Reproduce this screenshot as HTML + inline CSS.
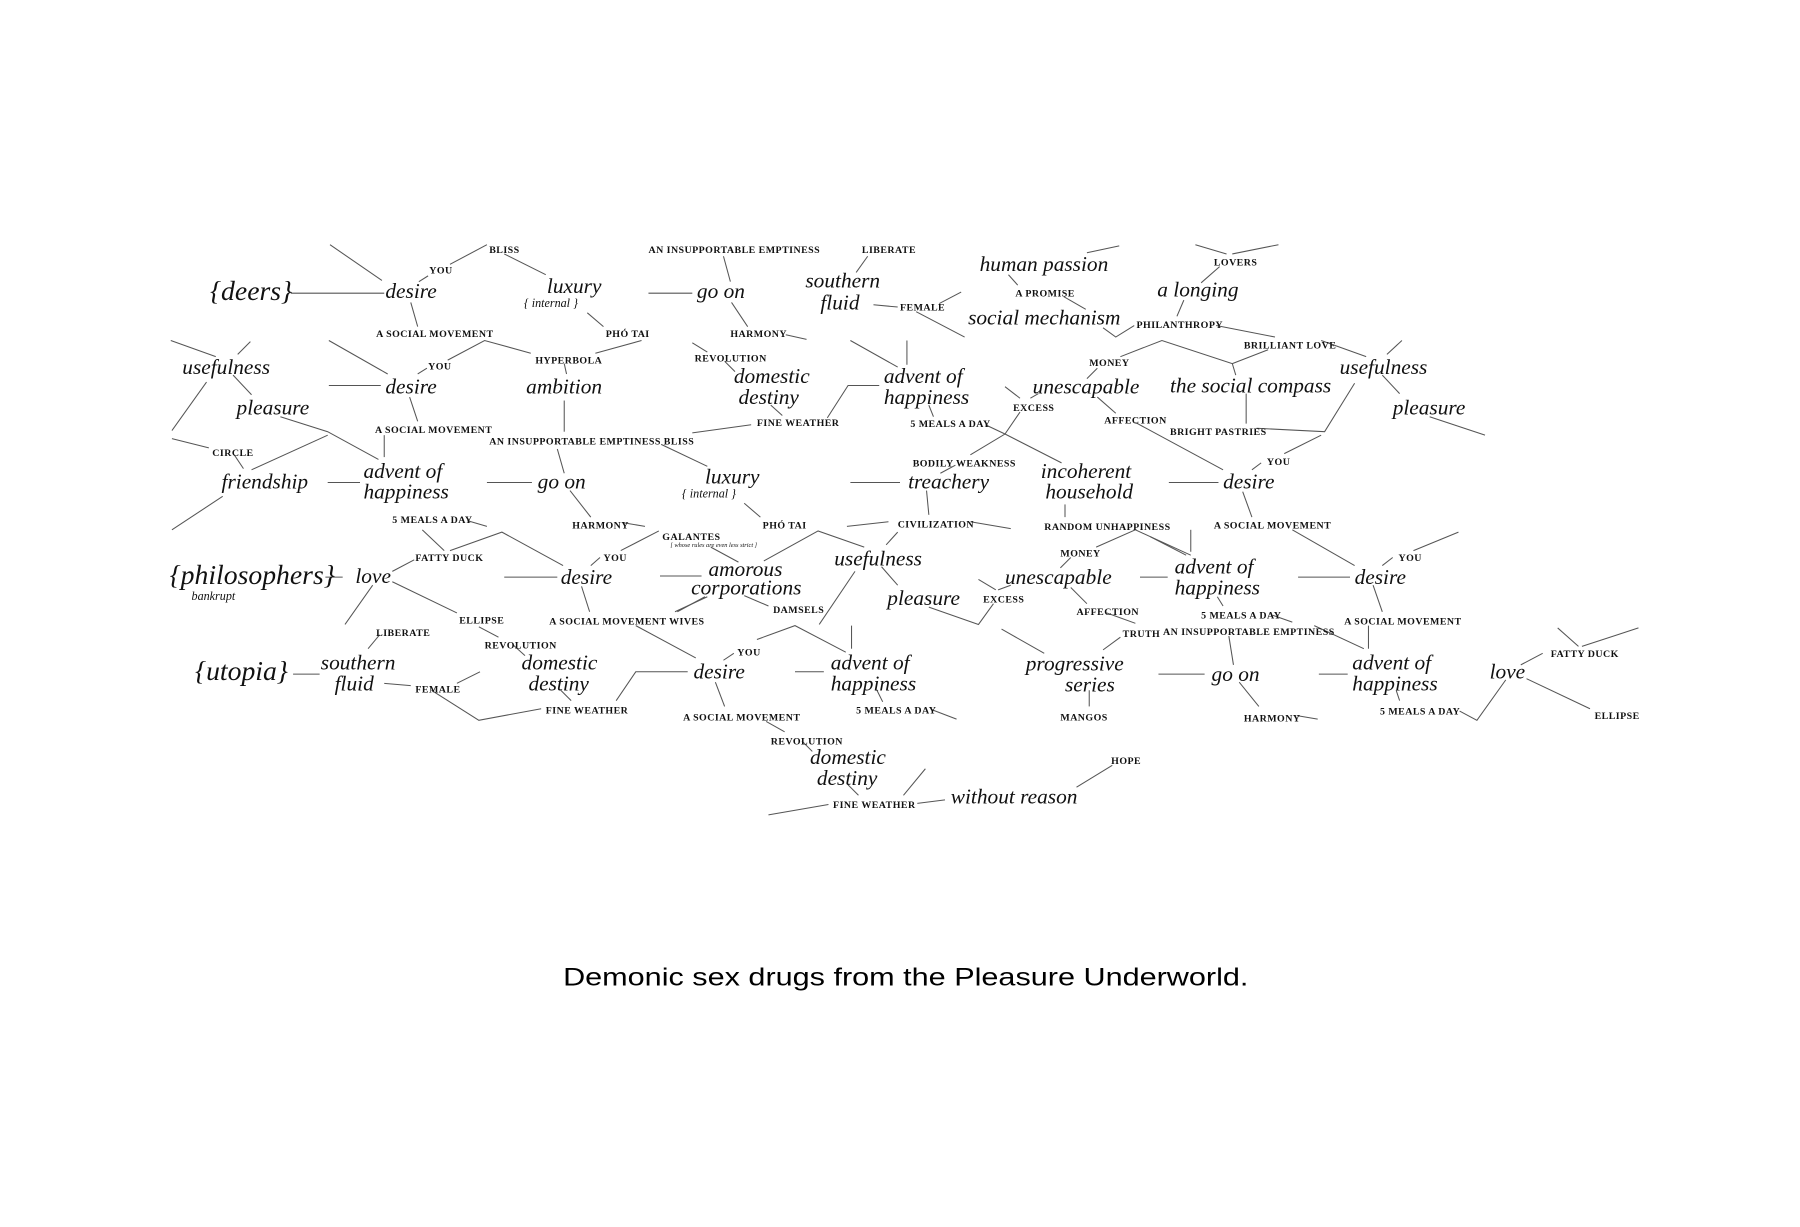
<!DOCTYPE html>
<html><head><meta charset="utf-8"><style>
html,body{margin:0;padding:0;background:#fff;}
svg{display:block;}
.n{font-family:"Liberation Serif",serif;font-style:italic;font-size:18.5px;fill:#111;}
.b{font-family:"Liberation Serif",serif;font-style:italic;font-size:24px;fill:#111;}
.i{font-family:"Liberation Serif",serif;font-style:italic;font-size:10.5px;fill:#111;}
.t{font-family:"Liberation Serif",serif;font-style:italic;font-size:5.5px;fill:#111;}
.s{font-family:"Liberation Serif",serif;font-size:8.6px;letter-spacing:0.4px;fill:#111;font-weight:bold;}
.c{font-family:"Liberation Sans",sans-serif;font-size:22px;fill:#000;}
line,polyline{stroke:#555;stroke-width:0.9;fill:none;}
</style></head><body>
<svg width="1800" height="1227" viewBox="0 0 1560 1063" preserveAspectRatio="none" xmlns="http://www.w3.org/2000/svg">
<!-- lines -->
<line x1="252" y1="254" x2="333" y2="254"/>
<line x1="286" y1="212" x2="331" y2="243"/>
<line x1="363" y1="244" x2="371" y2="239"/>
<line x1="390" y1="229" x2="422" y2="212"/>
<line x1="437" y1="220" x2="473" y2="238"/>
<line x1="356" y1="262" x2="362" y2="283"/>
<line x1="509" y1="271" x2="523" y2="283"/>
<line x1="562" y1="254" x2="600" y2="254"/>
<line x1="627" y1="222" x2="633" y2="244"/>
<line x1="634" y1="262" x2="648" y2="283"/>
<line x1="681" y1="290" x2="699" y2="294"/>
<line x1="752" y1="222" x2="742" y2="236"/>
<line x1="757" y1="264" x2="778" y2="266"/>
<line x1="814" y1="263" x2="833" y2="253"/>
<line x1="794" y1="270" x2="836" y2="292"/>
<line x1="942" y1="219" x2="970" y2="213"/>
<line x1="874" y1="238" x2="882" y2="247"/>
<line x1="922" y1="257" x2="941" y2="268"/>
<polyline points="956,284 967,292 983,282"/>
<line x1="1036" y1="212" x2="1063" y2="220"/>
<line x1="1068" y1="220" x2="1108" y2="212"/>
<line x1="1057" y1="231" x2="1041" y2="245"/>
<line x1="1026" y1="260" x2="1020" y2="274"/>
<line x1="1054" y1="282" x2="1105" y2="292"/>
<line x1="1145" y1="295" x2="1184" y2="309"/>
<line x1="1202" y1="307" x2="1215" y2="295"/>
<line x1="1198" y1="325" x2="1213" y2="341"/>
<line x1="1239" y1="361" x2="1287" y2="377"/>
<polyline points="1174,332 1148,374 1089,371"/>
<polyline points="971,309 1007,295 1068,315 1071,325"/>
<line x1="1068" y1="315" x2="1099" y2="303"/>
<line x1="1080" y1="341" x2="1080" y2="367"/>
<line x1="951" y1="319" x2="942" y2="328"/>
<line x1="893" y1="345" x2="900" y2="341"/>
<line x1="871" y1="335" x2="884" y2="345"/>
<polyline points="884,357 871,376 841,394"/>
<line x1="871" y1="376" x2="920" y2="401"/>
<line x1="854" y1="368" x2="871" y2="376"/>
<line x1="951" y1="344" x2="967" y2="358"/>
<line x1="984" y1="366" x2="1060" y2="407"/>
<line x1="786" y1="295" x2="786" y2="316"/>
<line x1="737" y1="295" x2="778" y2="318"/>
<line x1="805" y1="351" x2="809" y2="361"/>
<line x1="600" y1="297" x2="613" y2="305"/>
<line x1="628" y1="313" x2="637" y2="322"/>
<line x1="668" y1="351" x2="678" y2="360"/>
<line x1="651" y1="368" x2="600" y2="375"/>
<polyline points="717,362 735,334 762,334"/>
<line x1="148" y1="295" x2="187" y2="309"/>
<line x1="217" y1="296" x2="206" y2="307"/>
<line x1="202" y1="325" x2="218" y2="342"/>
<line x1="179" y1="331" x2="149" y2="373"/>
<polyline points="243,361 284,374 328,398"/>
<line x1="284" y1="377" x2="218" y2="407"/>
<line x1="149" y1="380" x2="181" y2="388"/>
<line x1="203" y1="394" x2="211" y2="406"/>
<line x1="193" y1="430" x2="149" y2="459"/>
<line x1="284" y1="418" x2="312" y2="418"/>
<line x1="333" y1="377" x2="333" y2="396"/>
<line x1="285" y1="334" x2="330" y2="334"/>
<line x1="285" y1="295" x2="336" y2="324"/>
<line x1="355" y1="344" x2="362" y2="365"/>
<line x1="362" y1="324" x2="370" y2="319"/>
<polyline points="388,312 420,295 460,306"/>
<line x1="516" y1="306" x2="556" y2="295"/>
<line x1="489" y1="315" x2="491" y2="324"/>
<line x1="489" y1="347" x2="489" y2="374"/>
<line x1="483" y1="389" x2="489" y2="410"/>
<line x1="422" y1="418" x2="461" y2="418"/>
<line x1="494" y1="425" x2="512" y2="448"/>
<line x1="541" y1="453" x2="559" y2="456"/>
<line x1="573" y1="385" x2="613" y2="404"/>
<line x1="645" y1="436" x2="659" y2="448"/>
<line x1="737" y1="418" x2="780" y2="418"/>
<line x1="828" y1="403" x2="815" y2="410"/>
<line x1="803" y1="425" x2="805" y2="446"/>
<line x1="734" y1="456" x2="770" y2="452"/>
<line x1="841" y1="452" x2="876" y2="458"/>
<line x1="923" y1="437" x2="923" y2="448"/>
<line x1="1013" y1="418" x2="1056" y2="418"/>
<line x1="1085" y1="407" x2="1093" y2="401"/>
<line x1="1113" y1="393" x2="1145" y2="377"/>
<line x1="1077" y1="426" x2="1085" y2="448"/>
<line x1="405" y1="451" x2="422" y2="456"/>
<line x1="366" y1="459" x2="385" y2="477"/>
<polyline points="390,477 435,461 488,490"/>
<line x1="359" y1="485" x2="340" y2="495"/>
<line x1="282" y1="500" x2="297" y2="500"/>
<line x1="323" y1="507" x2="299" y2="541"/>
<line x1="340" y1="504" x2="396" y2="531"/>
<line x1="415" y1="543" x2="432" y2="552"/>
<line x1="445" y1="559" x2="455" y2="568"/>
<line x1="486" y1="598" x2="495" y2="607"/>
<polyline points="469,614 415,624 374,598"/>
<polyline points="534,607 551,582 596,582"/>
<line x1="254" y1="584" x2="277" y2="584"/>
<line x1="329" y1="550" x2="319" y2="562"/>
<line x1="333" y1="592" x2="356" y2="594"/>
<line x1="396" y1="592" x2="416" y2="582"/>
<line x1="437" y1="500" x2="483" y2="500"/>
<line x1="512" y1="490" x2="520" y2="483"/>
<line x1="538" y1="477" x2="571" y2="460"/>
<line x1="504" y1="508" x2="511" y2="530"/>
<line x1="585" y1="530" x2="613" y2="517"/>
<line x1="551" y1="542" x2="603" y2="570"/>
<line x1="572" y1="499" x2="608" y2="499"/>
<line x1="616" y1="474" x2="640" y2="487"/>
<polyline points="662,486 709,460 749,474"/>
<line x1="645" y1="516" x2="666" y2="525"/>
<line x1="611" y1="517" x2="587" y2="530"/>
<line x1="778" y1="461" x2="768" y2="472"/>
<line x1="764" y1="491" x2="778" y2="507"/>
<line x1="741" y1="495" x2="710" y2="541"/>
<polyline points="805,526 848,541 861,523"/>
<line x1="848" y1="502" x2="863" y2="511"/>
<line x1="865" y1="511" x2="876" y2="507"/>
<line x1="928" y1="483" x2="919" y2="492"/>
<polyline points="950,474 984,459 1032,481"/>
<line x1="928" y1="509" x2="942" y2="523"/>
<line x1="959" y1="531" x2="984" y2="540"/>
<line x1="971" y1="552" x2="956" y2="563"/>
<line x1="868" y1="545" x2="905" y2="566"/>
<line x1="944" y1="598" x2="944" y2="612"/>
<line x1="689" y1="582" x2="714" y2="582"/>
<line x1="738" y1="542" x2="738" y2="562"/>
<polyline points="656,554 689,542 733,565"/>
<line x1="627" y1="572" x2="636" y2="566"/>
<line x1="620" y1="591" x2="628" y2="612"/>
<line x1="664" y1="625" x2="680" y2="634"/>
<line x1="695" y1="642" x2="704" y2="651"/>
<line x1="735" y1="680" x2="744" y2="689"/>
<line x1="718" y1="697" x2="666" y2="706"/>
<line x1="783" y1="689" x2="802" y2="666"/>
<line x1="795" y1="696" x2="819" y2="693"/>
<line x1="933" y1="682" x2="964" y2="663"/>
<line x1="760" y1="598" x2="765" y2="608"/>
<line x1="808" y1="615" x2="829" y2="623"/>
<line x1="1032" y1="459" x2="1032" y2="478"/>
<line x1="997" y1="465" x2="1028" y2="481"/>
<line x1="988" y1="500" x2="1012" y2="500"/>
<line x1="1055" y1="517" x2="1060" y2="525"/>
<line x1="1103" y1="533" x2="1120" y2="539"/>
<line x1="1065" y1="551" x2="1069" y2="576"/>
<line x1="1139" y1="542" x2="1182" y2="562"/>
<line x1="1004" y1="584" x2="1044" y2="584"/>
<line x1="1074" y1="591" x2="1091" y2="612"/>
<line x1="1124" y1="620" x2="1142" y2="623"/>
<line x1="1125" y1="500" x2="1170" y2="500"/>
<line x1="1120" y1="459" x2="1174" y2="490"/>
<line x1="1198" y1="490" x2="1207" y2="483"/>
<line x1="1225" y1="477" x2="1264" y2="461"/>
<line x1="1190" y1="507" x2="1198" y2="530"/>
<line x1="1186" y1="542" x2="1186" y2="562"/>
<line x1="1143" y1="584" x2="1168" y2="584"/>
<line x1="1210" y1="598" x2="1213" y2="607"/>
<polyline points="1265,616 1280,624 1305,589"/>
<line x1="1318" y1="576" x2="1337" y2="566"/>
<line x1="1350" y1="544" x2="1368" y2="560"/>
<line x1="1371" y1="560" x2="1420" y2="544"/>
<line x1="1323" y1="588" x2="1378" y2="614"/>
<!-- node words -->
<g transform="translate(0,-2)">
<text class="b" x="182" y="262">{deers}</text>
<text class="n" x="334" y="260">desire</text>
<text class="n" x="474" y="256">luxury</text>
<text class="i" x="454" y="268">{ internal }</text>
<text class="n" x="604" y="260">go on</text>
<text class="n" x="698" y="251">southern</text>
<text class="n" x="711" y="270">fluid</text>
<text class="n" x="849" y="237">human passion</text>
<text class="n" x="839" y="283">social mechanism</text>
<text class="n" x="1003" y="259">a longing</text>
<text class="n" x="158" y="326">usefulness</text>
<text class="n" x="205" y="361">pleasure</text>
<text class="n" x="334" y="343">desire</text>
<text class="n" x="456" y="343">ambition</text>
<text class="n" x="636" y="334">domestic</text>
<text class="n" x="640" y="352">destiny</text>
<text class="n" x="766" y="334">advent of</text>
<text class="n" x="766" y="352">happiness</text>
<text class="n" x="895" y="343">unescapable</text>
<text class="n" x="1014" y="342">the social compass</text>
<text class="n" x="1161" y="326">usefulness</text>
<text class="n" x="1207" y="361">pleasure</text>
<text class="n" x="192" y="425">friendship</text>
<text class="n" x="315" y="416">advent of</text>
<text class="n" x="315" y="434">happiness</text>
<text class="n" x="466" y="425">go on</text>
<text class="n" x="611" y="421">luxury</text>
<text class="i" x="591" y="433">{ internal }</text>
<text class="n" x="787" y="425">treachery</text>
<text class="n" x="902" y="416">incoherent</text>
<text class="n" x="906" y="434">household</text>
<text class="n" x="1060" y="425">desire</text>
<text class="b" x="147" y="508">{philosophers}</text>
<text class="i" x="166" y="522">bankrupt</text>
<text class="n" x="308" y="507">love</text>
<text class="n" x="486" y="508">desire</text>
<text class="n" x="614" y="501">amorous</text>
<text class="n" x="599" y="517">corporations</text>
<text class="n" x="723" y="492">usefulness</text>
<text class="n" x="769" y="526">pleasure</text>
<text class="n" x="871" y="508">unescapable</text>
<text class="n" x="1018" y="499">advent of</text>
<text class="n" x="1018" y="517">happiness</text>
<text class="n" x="1174" y="508">desire</text>
<text class="b" x="169" y="591">{utopia}</text>
<text class="n" x="278" y="582">southern</text>
<text class="n" x="290" y="600">fluid</text>
<text class="n" x="452" y="582">domestic</text>
<text class="n" x="458" y="600">destiny</text>
<text class="n" x="601" y="590">desire</text>
<text class="n" x="720" y="582">advent of</text>
<text class="n" x="720" y="600">happiness</text>
<text class="n" x="889" y="583">progressive</text>
<text class="n" x="923" y="601">series</text>
<text class="n" x="1050" y="592">go on</text>
<text class="n" x="1172" y="582">advent of</text>
<text class="n" x="1172" y="600">happiness</text>
<text class="n" x="1291" y="590">love</text>
<text class="n" x="702" y="664">domestic</text>
<text class="n" x="708" y="682">destiny</text>
<text class="n" x="824" y="698">without reason</text>
</g>
<!-- small labels -->
<text class="s" x="372" y="237">YOU</text>
<text class="s" x="424" y="219">BLISS</text>
<text class="s" x="326" y="292">A SOCIAL MOVEMENT</text>
<text class="s" x="525" y="292">PHÓ TAI</text>
<text class="s" x="562" y="219">AN INSUPPORTABLE EMPTINESS</text>
<text class="s" x="633" y="292">HARMONY</text>
<text class="s" x="747" y="219">LIBERATE</text>
<text class="s" x="780" y="269">FEMALE</text>
<text class="s" x="880" y="257">A PROMISE</text>
<text class="s" x="985" y="284">PHILANTHROPY</text>
<text class="s" x="1052" y="230">LOVERS</text>
<text class="s" x="1078" y="302">BRILLIANT LOVE</text>
<text class="s" x="1014" y="377">BRIGHT PASTRIES</text>
<text class="s" x="944" y="317">MONEY</text>
<text class="s" x="878" y="356">EXCESS</text>
<text class="s" x="957" y="367">AFFECTION</text>
<text class="s" x="789" y="370">5 MEALS A DAY</text>
<text class="s" x="602" y="313">REVOLUTION</text>
<text class="s" x="656" y="369">FINE WEATHER</text>
<text class="s" x="184" y="395">CIRCLE</text>
<text class="s" x="325" y="375">A SOCIAL MOVEMENT</text>
<text class="s" x="371" y="320">YOU</text>
<text class="s" x="464" y="315">HYPERBOLA</text>
<text class="s" x="424" y="385">AN INSUPPORTABLE EMPTINESS BLISS</text>
<text class="s" x="496" y="458">HARMONY</text>
<text class="s" x="661" y="458">PHÓ TAI</text>
<text class="s" x="791" y="404">BODILY WEAKNESS</text>
<text class="s" x="778" y="457">CIVILIZATION</text>
<text class="s" x="905" y="459">RANDOM UNHAPPINESS</text>
<text class="s" x="1098" y="403">YOU</text>
<text class="s" x="1052" y="458">A SOCIAL MOVEMENT</text>
<text class="s" x="340" y="453">5 MEALS A DAY</text>
<text class="s" x="360" y="486">FATTY DUCK</text>
<text class="s" x="398" y="540">ELLIPSE</text>
<text class="s" x="420" y="562">REVOLUTION</text>
<text class="s" x="326" y="551">LIBERATE</text>
<text class="s" x="360" y="600">FEMALE</text>
<text class="s" x="473" y="618">FINE WEATHER</text>
<text class="s" x="523" y="486">YOU</text>
<text class="s" x="574" y="468">GALANTES</text>
<text class="t" x="581" y="474">[ whose rules are even less strict ]</text>
<text class="s" x="476" y="541">A SOCIAL MOVEMENT WIVES</text>
<text class="s" x="670" y="531">DAMSELS</text>
<text class="s" x="852" y="522">EXCESS</text>
<text class="s" x="919" y="482">MONEY</text>
<text class="s" x="933" y="533">AFFECTION</text>
<text class="s" x="973" y="552">TRUTH</text>
<text class="s" x="1008" y="550">AN INSUPPORTABLE EMPTINESS</text>
<text class="s" x="919" y="624">MANGOS</text>
<text class="s" x="639" y="568">YOU</text>
<text class="s" x="592" y="624">A SOCIAL MOVEMENT</text>
<text class="s" x="668" y="645">REVOLUTION</text>
<text class="s" x="722" y="700">FINE WEATHER</text>
<text class="s" x="742" y="618">5 MEALS A DAY</text>
<text class="s" x="963" y="662">HOPE</text>
<text class="s" x="1041" y="536">5 MEALS A DAY</text>
<text class="s" x="1078" y="625">HARMONY</text>
<text class="s" x="1212" y="486">YOU</text>
<text class="s" x="1165" y="541">A SOCIAL MOVEMENT</text>
<text class="s" x="1196" y="619">5 MEALS A DAY</text>
<text class="s" x="1344" y="569">FATTY DUCK</text>
<text class="s" x="1382" y="623">ELLIPSE</text>
<text class="c" x="488" y="854" textLength="594" lengthAdjust="spacingAndGlyphs">Demonic sex drugs from the Pleasure Underworld.</text>
</svg>
</body></html>
